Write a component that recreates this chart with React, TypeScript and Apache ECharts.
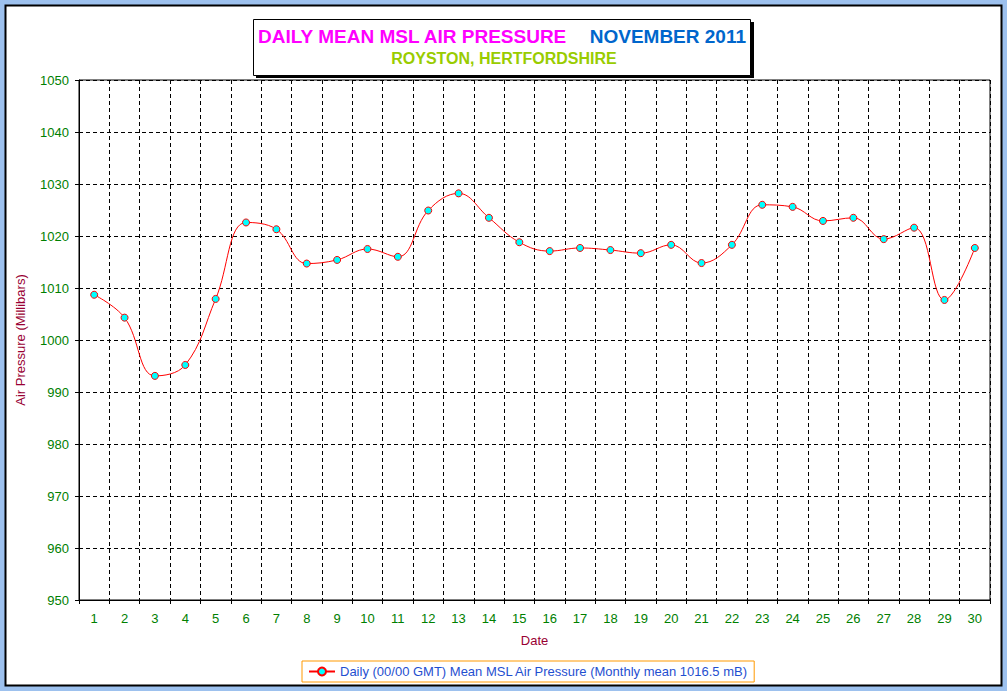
import React, { useEffect, useRef } from "react";
import * as echarts from "echarts";

const days = ["1","2","3","4","5","6","7","8","9","10","11","12","13","14","15","16","17","18","19","20","21","22","23","24","25","26","27","28","29","30"];
const pressure = [1008.7, 1004.3, 993.1, 995.2, 1007.9, 1022.6, 1021.3, 1014.7, 1015.4, 1017.5, 1016.0, 1024.9, 1028.2, 1023.5, 1018.8, 1017.1, 1017.7, 1017.3, 1016.7, 1018.3, 1014.8, 1018.3, 1026.0, 1025.6, 1022.9, 1023.5, 1019.4, 1021.6, 1007.7, 1017.7];
const titleMain = "DAILY MEAN MSL AIR PRESSURE";
const titleMonth = "NOVEMBER 2011";
const subtitle = "ROYSTON, HERTFORDSHIRE";
const seriesName = "Daily (00/00 GMT) Mean MSL Air Pressure (Monthly mean 1016.5 mB)";

export default function App() {
  const ref = useRef<HTMLDivElement>(null);
  useEffect(() => {
    if (!ref.current) return;
    const chart = echarts.init(ref.current, undefined, { renderer: "svg" });
    const ff = "'Liberation Sans', Arial, sans-serif";
    const labelFont = { fontFamily: ff, fontSize: 13 };
    chart.setOption({
      animation: false,
      backgroundColor: "#9DC1EE",
      graphic: [
        {
          type: "rect",
          z: -10,
          shape: { x: 5.5, y: 5.5, width: 996, height: 680 },
          style: { fill: "#FFFFFF", stroke: "#000000", lineWidth: 2 },
        },
        {
          type: "rect",
          z: 10,
          shape: { x: 256, y: 22, width: 498, height: 56 },
          style: { fill: "#000000" },
        },
        {
          type: "rect",
          z: 11,
          shape: { x: 253.5, y: 19.5, width: 497, height: 56 },
          style: { fill: "#FFFFFF", stroke: "#000000", lineWidth: 1 },
        },
        {
          type: "text",
          z: 12,
          x: 258,
          y: 36,
          style: {
            text: titleMain,
            fill: "#FF00FF",
            font: "bold 19px " + ff,
            verticalAlign: "middle",
            align: "left",
          },
        },
        {
          type: "text",
          z: 12,
          x: 746,
          y: 36,
          style: {
            text: titleMonth,
            fill: "#0066CC",
            font: "bold 19px " + ff,
            verticalAlign: "middle",
            align: "right",
          },
        },
        {
          type: "text",
          z: 12,
          x: 504,
          y: 58,
          style: {
            text: subtitle,
            fill: "#99CC00",
            font: "bold 16px " + ff,
            verticalAlign: "middle",
            align: "center",
          },
        },
      ],
      legend: {
        show: true,
        left: 302,
        top: 661,
        padding: [4, 6, 4, 6],
        borderColor: "#FF9900",
        borderWidth: 1,
        backgroundColor: "#FFFFFF",
        itemWidth: 26,
        itemHeight: 10,
        itemGap: 4,
        textStyle: { ...labelFont, color: "#1F4FD0" },
        data: [seriesName],
      },
      grid: {
        left: 79,
        right: 17,
        top: 80,
        bottom: 91,
        show: true,
        borderColor: "#000000",
        borderWidth: 1,
        backgroundColor: "transparent",
      },
      xAxis: {
        type: "category",
        data: days,
        boundaryGap: true,
        name: "Date",
        nameLocation: "middle",
        nameGap: 34,
        nameTextStyle: { ...labelFont, color: "#990033" },
        axisLine: { lineStyle: { color: "#000000", width: 1 } },
        axisTick: { show: true, length: 4, interval: 0, lineStyle: { color: "#000000" } },
        axisLabel: { ...labelFont, color: "#008000", margin: 12, interval: 0 },
        splitLine: { show: true, interval: 0, lineStyle: { color: "#000000", type: [4, 3], width: 1 } },
      },
      yAxis: {
        type: "value",
        min: 950,
        max: 1050,
        interval: 10,
        name: "Air Pressure (Millibars)",
        nameLocation: "middle",
        nameGap: 52,
        nameTextStyle: { ...labelFont, color: "#990033" },
        axisLine: { show: true, lineStyle: { color: "#000000", width: 1 } },
        axisTick: { show: true, length: 4, lineStyle: { color: "#000000" } },
        axisLabel: { ...labelFont, color: "#008000", margin: 10, formatter: (v: number) => String(v) },
        splitLine: { show: true, lineStyle: { color: "#000000", type: [4, 3], width: 1 } },
      },
      series: [
        {
          name: seriesName,
          type: "line",
          data: pressure,
          smooth: 0.4,
          symbol: "circle",
          symbolSize: 7,
          lineStyle: { color: "#FF0000", width: 1 },
          itemStyle: { color: "#00FFFF", borderColor: "#FF0000", borderWidth: 1 },
          z: 5,
        },
      ],
    });
    return () => chart.dispose();
  }, []);
  return (
    <div
      ref={ref}
      style={{ position: "fixed", left: 0, top: 0, width: 1007, height: 691 }}
    />
  );
}
